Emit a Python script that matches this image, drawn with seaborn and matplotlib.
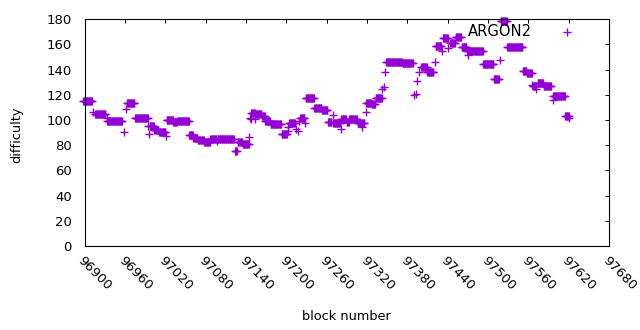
import matplotlib
matplotlib.use("Agg")
import matplotlib.pyplot as plt
import seaborn as sns
import pandas as pd

# runs of consecutive blocks sharing the same difficulty (start, end inclusive)
run_start = [96898, 96913, 96916, 96933, 96934, 96958, 96961, 96963, 96975, 96995,
             96996, 96997, 97004, 97011, 97021, 97022, 97032, 97038, 97056, 97062,
             97069, 97078, 97087, 97097, 97098, 97124, 97128, 97135, 97145, 97146,
             97147, 97148, 97149, 97153, 97154, 97155, 97164, 97169, 97177, 97193,
             97202, 97203, 97204, 97215, 97217, 97219, 97221, 97228, 97229, 97242,
             97253, 97262, 97269, 97270, 97281, 97282, 97290, 97294, 97306, 97312,
             97313, 97318, 97319, 97327, 97333, 97343, 97345, 97347, 97349, 97373,
             97390, 97393, 97395, 97397, 97401, 97410, 97421, 97422, 97431, 97433,
             97441, 97444, 97452, 97461, 97469, 97471, 97472, 97493, 97509, 97518,
             97519, 97529, 97552, 97558, 97566, 97567, 97572, 97574, 97583, 97596,
             97597, 97615, 97621]
run_end = [96911, 96913, 96931, 96933, 96956, 96958, 96961, 96974, 96994, 96995,
           96996, 97003, 97010, 97020, 97021, 97031, 97037, 97055, 97061, 97068,
           97077, 97086, 97096, 97097, 97122, 97127, 97134, 97144, 97145, 97146,
           97147, 97148, 97152, 97153, 97154, 97163, 97168, 97176, 97192, 97201,
           97202, 97203, 97213, 97215, 97217, 97219, 97227, 97228, 97241, 97252,
           97261, 97267, 97269, 97280, 97281, 97289, 97293, 97305, 97311, 97312,
           97316, 97318, 97326, 97332, 97342, 97343, 97345, 97347, 97372, 97388,
           97390, 97393, 97395, 97397, 97409, 97419, 97421, 97430, 97431, 97440,
           97441, 97451, 97460, 97468, 97470, 97471, 97492, 97508, 97516, 97518,
           97528, 97551, 97557, 97565, 97566, 97571, 97572, 97582, 97594, 97596,
           97614, 97620, 97621]
run_value = [115.0, 106.0, 104.5, 102.0, 99.6, 90.2, 108.5, 113.2, 102.0, 95.2,
             88.6, 95.0, 92.0, 90.7, 87.3, 99.7, 98.2, 99.0, 88.5, 85.5,
             83.9, 82.8, 84.7, 83.0, 84.7, 75.5, 82.8, 80.7, 86.3, 102.0,
             105.3, 101.0, 105.3, 101.0, 105.3, 104.5, 102.9, 99.2, 96.6, 88.6,
             91.5, 94.7, 97.9, 93.0, 91.5, 99.0, 101.3, 98.0, 117.5, 109.9,
             108.3, 98.7, 104.0, 97.6, 92.6, 100.8, 98.5, 101.0, 97.9, 94.7,
             97.9, 106.3, 113.5, 112.5, 117.2, 125.0, 126.4, 138.5, 145.8, 145.1,
             119.5, 121.0, 130.7, 138.0, 142.5, 138.5, 145.8, 158.5, 154.5, 165.3,
             157.0, 161.3, 166.0, 158.0, 154.8, 152.0, 154.8, 144.2, 132.3, 147.6,
             178.3, 158.2, 139.0, 137.0, 128.0, 126.7, 124.4, 129.3, 126.7, 115.9,
             118.8, 103.6, 101.3]

x_ticks = list(range(96900, 97681, 60))
y_ticks = list(range(0, 181, 20))

blocks, diffs = [], []
for s, e, v in zip(run_start, run_end, run_value):
    for b in range(s, e + 1):
        blocks.append(b)
        diffs.append(v)
df = pd.DataFrame({"block": blocks, "difficulty": diffs})

sns.set_style("white")
plt.rcParams["font.family"] = ["DejaVu Sans"]
plt.rcParams["text.color"] = "black"
plt.rcParams["axes.labelcolor"] = "black"

fig = plt.figure(figsize=(6.4, 3.3), dpi=100)
ax = fig.add_axes([84.5 / 640, 1 - 246 / 330, (609 - 84.5) / 640, (246 - 19.3) / 330])

sns.scatterplot(data=df, x="block", y="difficulty", marker="+", s=26,
                color="#9400d3", linewidth=1.0, label="ARGON2", ax=ax,
                clip_on=False)

ax.set_xlim(96900, 97680)
ax.set_ylim(0, 180)
ax.set_xticks(x_ticks)
ax.set_yticks(y_ticks)
ax.tick_params(direction="in", length=3, width=0.7, top=True, right=True,
               labelsize=9.5, colors="black")
ax.tick_params(axis="y", pad=9)
ax.tick_params(axis="x", pad=6)
for lbl in ax.get_xticklabels():
    lbl.set_rotation(-45)
    lbl.set_ha("left")
    lbl.set_va("top")
    lbl.set_rotation_mode("anchor")

for sp in ax.spines.values():
    sp.set_color("black")
    sp.set_linewidth(0.8)

ax.set_xlabel("block number", fontsize=9.3)
ax.set_ylabel("difficulty", fontsize=9.3)
ax.xaxis.set_label_coords(0.5, -0.313)
ax.xaxis.label.set_va("center")
ax.yaxis.set_label_coords(-0.13, 0.49)
ax.yaxis.label.set_va("center")

ax.legend(loc="center right", bbox_to_anchor=(581.4 / 640, 1 - 31.5 / 330),
          bbox_transform=fig.transFigure, frameon=False, markerfirst=False,
          fontsize=10.6, handletextpad=1.38, borderpad=0, borderaxespad=0,
          handlelength=2)

fig.savefig("out.png", dpi=100)
